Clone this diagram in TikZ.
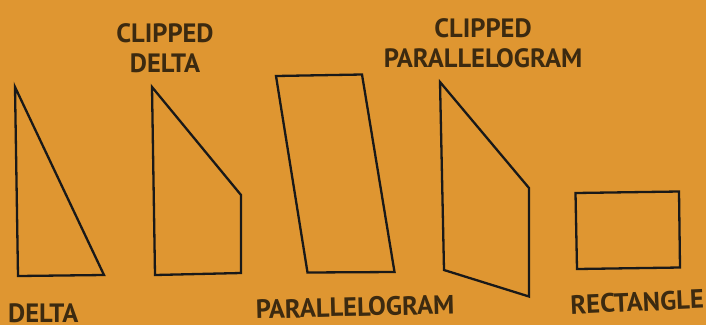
\documentclass[tikz,border=0pt]{standalone}
\usepackage{fontspec}
\setmainfont{PT Sans}
\definecolor{bg}{HTML}{DF9631}
\definecolor{ink}{HTML}{3C2A10}
\tikzset{
  outl/.style={draw=black!90, line width=2.3pt, line join=miter},
  lbl/.style={text=ink, font=\bfseries\fontsize{26.5}{26.5}\selectfont, inner sep=0pt},
}
\begin{document}
\begin{tikzpicture}[x=1pt,y=-1pt]
\fill[bg] (0,0) rectangle (706,325);
\useasboundingbox (0,0) rectangle (706,325);
% delta
\coordinate (d1) at (15,87);
\coordinate (d2) at (18,276);
\coordinate (d3) at (104,275);
\draw[outl] (d1) -- (d2) -- (d3) -- cycle;
% clipped delta
\coordinate (c1) at (152,87);
\coordinate (c2) at (155,275);
\coordinate (c3) at (241,273);
\coordinate (c4) at (241,195);
\draw[outl] (c1) -- (c2) -- (c3) -- (c4) -- cycle;
% parallelogram
\coordinate (p1) at (276,76);
\coordinate (p2) at (362,74.5);
\coordinate (p3) at (394.5,272);
\coordinate (p4) at (307.5,272.5);
\draw[outl] (p1) -- (p2) -- (p3) -- (p4) -- cycle;
% clipped parallelogram
\coordinate (q1) at (440,82);
\coordinate (q2) at (529,188);
\coordinate (q3) at (529,296.5);
\coordinate (q4) at (444,270);
\draw[outl] (q1) -- (q2) -- (q3) -- (q4) -- cycle;
% rectangle
\coordinate (r1) at (575.5,193);
\coordinate (r2) at (679,191.5);
\coordinate (r3) at (680,267.5);
\coordinate (r4) at (577,269);
\draw[outl] (r1) -- (r2) -- (r3) -- (r4) -- cycle;
% labels
\node[lbl, align=center] (lcd) at (165,48) {CLIPPED\\[3pt]DELTA};
\node[lbl, align=center] (lcp) at (483,43) {CLIPPED\\[3.5pt]PARALLELOGRAM};
\node[lbl, anchor=base west] (ld) at (8,322) {DELTA};
\node[lbl, rotate=1.5] (lp) at (355,307) {PARALLELOGRAM};
\node[lbl, rotate=2.5] (lr) at (637,302) {RECTANGLE};
\end{tikzpicture}
\end{document}
